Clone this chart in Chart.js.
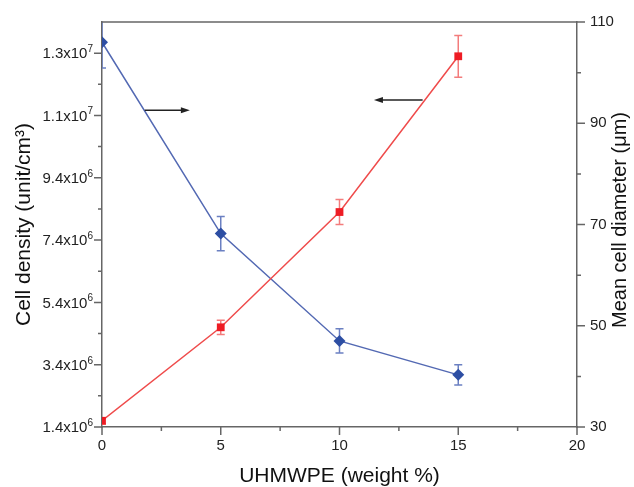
<!DOCTYPE html>
<html>
<head>
<meta charset="utf-8">
<script src="https://cdn.jsdelivr.net/npm/chart.js@4/dist/chart.umd.min.js"></script>
<style>
  html, body { margin: 0; padding: 0; background: #fff; }
  canvas { display: block; }
</style>
</head>
<body>
<canvas id="chart" width="634" height="487"></canvas>
<script>
  // values
  const weightPct = [0, 5, 10, 15];
  const cellDensity = [1.6e6, 4.6e6, 8.3e6, 13.3e6];
  const cellDensityErr = [0.1e6, 0.23e6, 0.4e6, 0.67e6];
  const cellDiameter = [106, 68.2, 47.0, 40.3];
  const cellDiameterErr = [5.1, 3.4, 2.4, 2.0];

  // axis ticks (major ones carry a label)
  const xTicks = [0, 2.5, 5, 7.5, 10, 12.5, 15, 17.5, 20];
  const xTickLabels = ['0', '', '5', '', '10', '', '15', '', '20'];
  const densityTicks = [1.4e6, 2.4e6, 3.4e6, 4.4e6, 5.4e6, 6.4e6, 7.4e6,
    8.4e6, 9.4e6, 10.4e6, 11.4e6, 12.4e6, 13.4e6];
  // mantissa x10^exponent, drawn with a raised exponent
  const densityTickLabels = ['1.4x10^6', '', '3.4x10^6', '', '5.4x10^6', '',
    '7.4x10^6', '', '9.4x10^6', '', '1.1x10^7', '', '1.3x10^7'];
  const diameterTicks = [30, 40, 50, 60, 70, 80, 90, 100, 110];
  const diameterTickLabels = ['30', '', '50', '', '70', '', '90', '', '110'];

  // arrows telling which axis each curve belongs to (data units, left axis)
  const arrowFrom = [[1.8, 11.57e6], [13.5, 11.9e6]];
  const arrowTo = [[3.7, 11.57e6], [11.45, 11.9e6]];

  const FONT = "'Liberation Sans', Arial, sans-serif";
  const axisColor = '#666';

  const points = (ys) => weightPct.map((x, i) => ({ x: x, y: ys[i] }));

  const fixSize = (size) => (scale) => {
    if (scale.isHorizontal()) scale.height = size;
    else scale.width = size;
  };

  const setTicks = (values) => (scale) => {
    scale.ticks = values.map((v) => ({ value: v }));
  };

  const errorBars = {
    id: 'errorBars',
    beforeDatasetsDraw(chart) {
      const ctx = chart.ctx;
      const area = chart.chartArea;
      ctx.save();
      ctx.beginPath();
      ctx.rect(area.left, area.top, area.right - area.left, area.bottom - area.top);
      ctx.clip();
      chart.data.datasets.forEach((ds) => {
        const xs = chart.scales.x;
        const ys = chart.scales[ds.yAxisID];
        ctx.strokeStyle = ds.errorColor;
        ctx.lineWidth = 1.5;
        ds.data.forEach((p, i) => {
          const px = xs.getPixelForValue(p.x);
          const top = ys.getPixelForValue(p.y + ds.errors[i]);
          const bot = ys.getPixelForValue(p.y - ds.errors[i]);
          ctx.beginPath();
          ctx.moveTo(px, top);
          ctx.lineTo(px, bot);
          ctx.moveTo(px - 4, top);
          ctx.lineTo(px + 4, top);
          ctx.moveTo(px - 4, bot);
          ctx.lineTo(px + 4, bot);
          ctx.stroke();
        });
      });
      ctx.restore();
    },
  };

  const decorations = {
    id: 'decorations',
    afterDraw(chart) {
      const ctx = chart.ctx;
      const area = chart.chartArea;
      const xs = chart.scales.x;
      const yl = chart.scales.yDensity;
      const yr = chart.scales.yDiam;
      ctx.save();

      // top frame line
      ctx.strokeStyle = axisColor;
      ctx.lineWidth = 1.5;
      ctx.beginPath();
      ctx.moveTo(area.left, area.top);
      ctx.lineTo(area.right, area.top);
      ctx.stroke();

      // tick marks, pointing outwards, major longer than minor
      ctx.beginPath();
      xTicks.forEach((v, i) => {
        const px = xs.getPixelForValue(v);
        ctx.moveTo(px, area.bottom);
        ctx.lineTo(px, area.bottom + (xTickLabels[i] ? 8 : 4));
      });
      densityTicks.forEach((v, i) => {
        const py = yl.getPixelForValue(v);
        ctx.moveTo(area.left, py);
        ctx.lineTo(area.left - (densityTickLabels[i] ? 8 : 4), py);
      });
      diameterTicks.forEach((v, i) => {
        const py = yr.getPixelForValue(v);
        ctx.moveTo(area.right, py);
        ctx.lineTo(area.right + (diameterTickLabels[i] ? 8 : 4), py);
      });
      ctx.stroke();

      // left tick labels with superscript exponent
      ctx.fillStyle = '#222';
      ctx.textAlign = 'right';
      densityTicks.forEach((v, i) => {
        if (!densityTickLabels[i]) return;
        const parts = densityTickLabels[i].split('^');
        const py = yl.getPixelForValue(v);
        const right = area.left - 9;
        ctx.font = '10px ' + FONT;
        ctx.textBaseline = 'alphabetic';
        ctx.fillText(parts[1], right, py - 1);
        const expW = ctx.measureText(parts[1]).width;
        ctx.font = '15px ' + FONT;
        ctx.textBaseline = 'middle';
        ctx.fillText(parts[0], right - expW, py + 1);
      });

      // arrows
      ctx.strokeStyle = '#222';
      ctx.fillStyle = '#222';
      ctx.lineWidth = 1.5;
      arrowFrom.forEach((from, i) => {
        const x0 = xs.getPixelForValue(from[0]);
        const y0 = yl.getPixelForValue(from[1]);
        const x1 = xs.getPixelForValue(arrowTo[i][0]);
        const y1 = yl.getPixelForValue(arrowTo[i][1]);
        const dir = Math.sign(x1 - x0);
        ctx.beginPath();
        ctx.moveTo(x0, y0);
        ctx.lineTo(x1 - dir * 6, y1);
        ctx.stroke();
        ctx.beginPath();
        ctx.moveTo(x1, y1);
        ctx.lineTo(x1 - dir * 9, y1 - 3);
        ctx.lineTo(x1 - dir * 9, y1 + 3);
        ctx.closePath();
        ctx.fill();
      });

      // right axis title, reading bottom to top
      ctx.fillStyle = '#111';
      ctx.font = '20px ' + FONT;
      ctx.textAlign = 'center';
      ctx.textBaseline = 'middle';
      ctx.translate(620, 220);
      ctx.rotate(-Math.PI / 2);
      ctx.fillText('Mean cell diameter (\u03bcm)', 0, 0);
      ctx.restore();
    },
  };

  new Chart(document.getElementById('chart'), {
    type: 'line',
    data: {
      datasets: [
        {
          label: 'Cell density',
          data: points(cellDensity),
          errors: cellDensityErr,
          errorColor: '#f37c7c',
          yAxisID: 'yDensity',
          borderColor: '#ef4b4b',
          borderWidth: 1.5,
          pointStyle: 'rect',
          pointRadius: 5.5,
          pointBackgroundColor: '#ee1c24',
          pointBorderColor: '#ee1c24',
          pointBorderWidth: 0,
          clip: 0,
        },
        {
          label: 'Mean cell diameter',
          data: points(cellDiameter),
          errors: cellDiameterErr,
          errorColor: '#6b80c2',
          yAxisID: 'yDiam',
          borderColor: '#5369b3',
          borderWidth: 1.5,
          pointStyle: 'rectRot',
          pointRadius: 6,
          pointBackgroundColor: '#2d4ea3',
          pointBorderColor: '#2d4ea3',
          pointBorderWidth: 0,
          clip: 0,
        },
      ],
    },
    options: {
      responsive: false,
      animation: false,
      devicePixelRatio: 1,
      layout: { padding: { top: 21, left: 0, right: 0, bottom: 0 } },
      plugins: { legend: { display: false }, tooltip: { enabled: false } },
      scales: {
        x: {
          type: 'linear',
          min: 0,
          max: 20,
          afterFit: fixSize(60),
          afterBuildTicks: setTicks(xTicks),
          grid: { drawOnChartArea: false, drawTicks: false },
          border: { color: axisColor, width: 1.5 },
          ticks: {
            autoSkip: false,
            maxRotation: 0,
            padding: 10,
            color: '#222',
            font: { family: FONT, size: 15 },
            callback: (v, i) => xTickLabels[i],
          },
          title: {
            display: true,
            text: 'UHMWPE (weight %)',
            color: '#111',
            font: { family: FONT, size: 21, lineHeight: 1 },
            padding: { top: 0, bottom: 0 },
          },
        },
        yDensity: {
          type: 'linear',
          position: 'left',
          min: 1.4e6,
          max: 14.4e6,
          afterFit: fixSize(102),
          afterBuildTicks: setTicks(densityTicks),
          grid: { drawOnChartArea: false, drawTicks: false },
          border: { color: axisColor, width: 1.5 },
          ticks: {
            autoSkip: false,
            callback: () => '',
          },
          title: {
            display: true,
            text: 'Cell density (unit/cm\u00b3)',
            color: '#111',
            font: { family: FONT, size: 21, lineHeight: 1 },
            padding: { top: 14, bottom: 0 },
          },
        },
        yDiam: {
          type: 'linear',
          position: 'right',
          min: 30,
          max: 110,
          afterFit: fixSize(57),
          afterBuildTicks: setTicks(diameterTicks),
          grid: { drawOnChartArea: false, drawTicks: false },
          border: { color: axisColor, width: 1.5 },
          ticks: {
            autoSkip: false,
            padding: 13,
            color: '#222',
            font: { family: FONT, size: 15 },
            callback: (v, i) => diameterTickLabels[i],
          },
        },
      },
    },
    plugins: [errorBars, decorations],
  });
</script>
</body>
</html>
